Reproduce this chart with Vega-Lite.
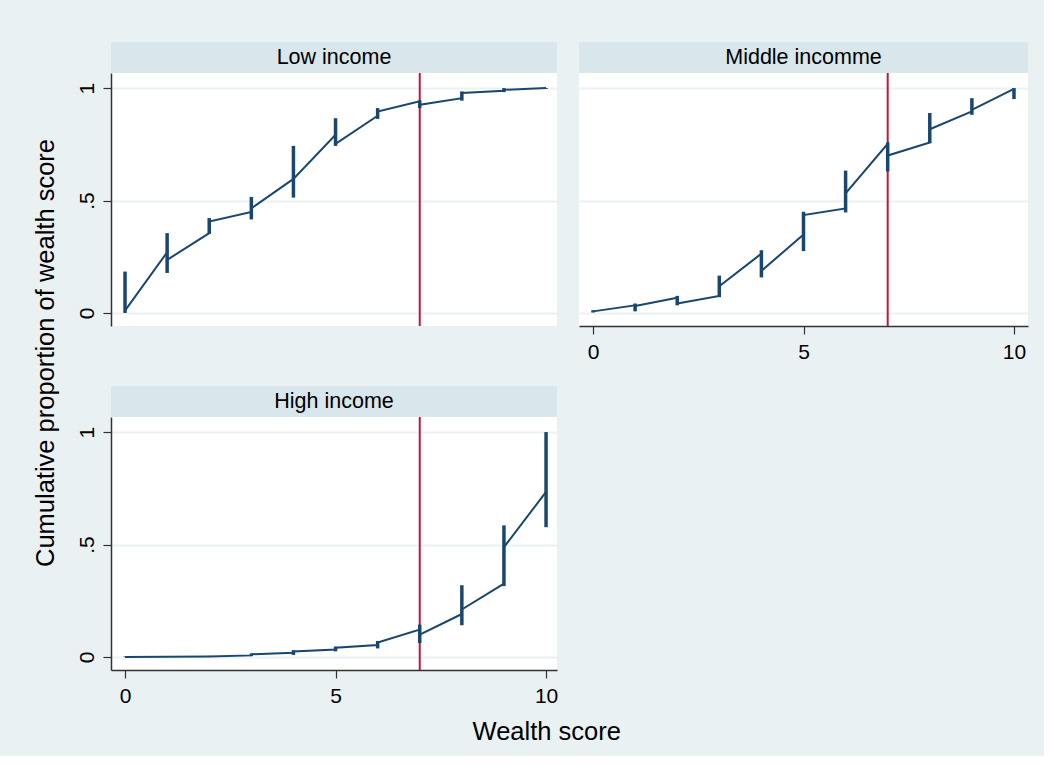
{
  "$schema": "https://vega.github.io/schema/vega-lite/v6.json",
  "background": "#EAF1F3",
  "padding": {"left": 33, "top": 42, "right": 16, "bottom": 10},
  "title": {"text": "Wealth score", "orient": "bottom", "anchor": "middle", "fontSize": 25.5, "font": "Liberation Sans", "fontWeight": "normal", "color": "#000000", "offset": 14, "dx": 16},
  "datasets": {
    "panels": [
      {"panel": "Low income"},
      {"panel": "Middle incomme"},
      {"panel": "High income"}
    ],
    "cut": [{"cutoff": 7}],
    "line": [
      {"panel": "Low income", "score": 0, "prop": 0.01, "ord": 0},
      {"panel": "Low income", "score": 1, "prop": 0.27, "ord": 1},
      {"panel": "Low income", "score": 1, "prop": 0.236, "ord": 2},
      {"panel": "Low income", "score": 2, "prop": 0.355, "ord": 3},
      {"panel": "Low income", "score": 2, "prop": 0.407, "ord": 4},
      {"panel": "Low income", "score": 3, "prop": 0.449, "ord": 5},
      {"panel": "Low income", "score": 3, "prop": 0.465, "ord": 6},
      {"panel": "Low income", "score": 4, "prop": 0.596, "ord": 7},
      {"panel": "Low income", "score": 5, "prop": 0.792, "ord": 8},
      {"panel": "Low income", "score": 5, "prop": 0.752, "ord": 9},
      {"panel": "Low income", "score": 6, "prop": 0.877, "ord": 10},
      {"panel": "Low income", "score": 6, "prop": 0.896, "ord": 11},
      {"panel": "Low income", "score": 7, "prop": 0.941, "ord": 12},
      {"panel": "Low income", "score": 7, "prop": 0.926, "ord": 13},
      {"panel": "Low income", "score": 8, "prop": 0.955, "ord": 14},
      {"panel": "Low income", "score": 8, "prop": 0.978, "ord": 15},
      {"panel": "Low income", "score": 9, "prop": 0.988, "ord": 16},
      {"panel": "Low income", "score": 9, "prop": 0.992, "ord": 17},
      {"panel": "Low income", "score": 10, "prop": 1.0, "ord": 18},
      {"panel": "Middle incomme", "score": 0, "prop": 0.007, "ord": 0},
      {"panel": "Middle incomme", "score": 1, "prop": 0.034, "ord": 1},
      {"panel": "Middle incomme", "score": 1, "prop": 0.031, "ord": 2},
      {"panel": "Middle incomme", "score": 2, "prop": 0.068, "ord": 3},
      {"panel": "Middle incomme", "score": 2, "prop": 0.042, "ord": 4},
      {"panel": "Middle incomme", "score": 3, "prop": 0.076, "ord": 5},
      {"panel": "Middle incomme", "score": 3, "prop": 0.119, "ord": 6},
      {"panel": "Middle incomme", "score": 4, "prop": 0.264, "ord": 7},
      {"panel": "Middle incomme", "score": 4, "prop": 0.187, "ord": 8},
      {"panel": "Middle incomme", "score": 5, "prop": 0.349, "ord": 9},
      {"panel": "Middle incomme", "score": 5, "prop": 0.435, "ord": 10},
      {"panel": "Middle incomme", "score": 6, "prop": 0.465, "ord": 11},
      {"panel": "Middle incomme", "score": 6, "prop": 0.532, "ord": 12},
      {"panel": "Middle incomme", "score": 7, "prop": 0.752, "ord": 13},
      {"panel": "Middle incomme", "score": 7, "prop": 0.7, "ord": 14},
      {"panel": "Middle incomme", "score": 8, "prop": 0.758, "ord": 15},
      {"panel": "Middle incomme", "score": 8, "prop": 0.817, "ord": 16},
      {"panel": "Middle incomme", "score": 9, "prop": 0.896, "ord": 17},
      {"panel": "Middle incomme", "score": 9, "prop": 0.903, "ord": 18},
      {"panel": "Middle incomme", "score": 10, "prop": 0.996, "ord": 19},
      {"panel": "High income", "score": 0, "prop": 0.0, "ord": 0},
      {"panel": "High income", "score": 1, "prop": 0.001, "ord": 1},
      {"panel": "High income", "score": 2, "prop": 0.002, "ord": 2},
      {"panel": "High income", "score": 3, "prop": 0.007, "ord": 3},
      {"panel": "High income", "score": 3, "prop": 0.012, "ord": 4},
      {"panel": "High income", "score": 4, "prop": 0.019, "ord": 5},
      {"panel": "High income", "score": 4, "prop": 0.024, "ord": 6},
      {"panel": "High income", "score": 5, "prop": 0.033, "ord": 7},
      {"panel": "High income", "score": 5, "prop": 0.041, "ord": 8},
      {"panel": "High income", "score": 6, "prop": 0.053, "ord": 9},
      {"panel": "High income", "score": 6, "prop": 0.064, "ord": 10},
      {"panel": "High income", "score": 7, "prop": 0.122, "ord": 11},
      {"panel": "High income", "score": 7, "prop": 0.099, "ord": 12},
      {"panel": "High income", "score": 8, "prop": 0.191, "ord": 13},
      {"panel": "High income", "score": 8, "prop": 0.211, "ord": 14},
      {"panel": "High income", "score": 9, "prop": 0.326, "ord": 15},
      {"panel": "High income", "score": 9, "prop": 0.488, "ord": 16},
      {"panel": "High income", "score": 10, "prop": 0.734, "ord": 17}
    ],
    "bars": [
      {"panel": "Low income", "score": 0, "lo": 0.0, "hi": 0.184},
      {"panel": "Low income", "score": 1, "lo": 0.178, "hi": 0.355},
      {"panel": "Low income", "score": 2, "lo": 0.352, "hi": 0.422},
      {"panel": "Low income", "score": 3, "lo": 0.416, "hi": 0.516},
      {"panel": "Low income", "score": 4, "lo": 0.513, "hi": 0.743},
      {"panel": "Low income", "score": 5, "lo": 0.743, "hi": 0.866},
      {"panel": "Low income", "score": 6, "lo": 0.863, "hi": 0.911},
      {"panel": "Low income", "score": 7, "lo": 0.911, "hi": 0.945},
      {"panel": "Low income", "score": 8, "lo": 0.944, "hi": 0.985},
      {"panel": "Low income", "score": 9, "lo": 0.982, "hi": 1.0},
      {"panel": "Low income", "score": 10, "lo": 0.996, "hi": 1.0},
      {"panel": "Middle incomme", "score": 0, "lo": 0.002, "hi": 0.012},
      {"panel": "Middle incomme", "score": 1, "lo": 0.007, "hi": 0.042},
      {"panel": "Middle incomme", "score": 2, "lo": 0.034, "hi": 0.076},
      {"panel": "Middle incomme", "score": 3, "lo": 0.07, "hi": 0.166},
      {"panel": "Middle incomme", "score": 4, "lo": 0.158, "hi": 0.279},
      {"panel": "Middle incomme", "score": 5, "lo": 0.275, "hi": 0.45},
      {"panel": "Middle incomme", "score": 6, "lo": 0.447, "hi": 0.633},
      {"panel": "Middle incomme", "score": 7, "lo": 0.629, "hi": 0.758},
      {"panel": "Middle incomme", "score": 8, "lo": 0.755, "hi": 0.889},
      {"panel": "Middle incomme", "score": 9, "lo": 0.881, "hi": 0.955},
      {"panel": "Middle incomme", "score": 10, "lo": 0.951, "hi": 1.0},
      {"panel": "High income", "score": 0, "lo": 0.0, "hi": 0.002},
      {"panel": "High income", "score": 1, "lo": 0.0, "hi": 0.003},
      {"panel": "High income", "score": 2, "lo": 0.0, "hi": 0.005},
      {"panel": "High income", "score": 3, "lo": 0.004, "hi": 0.014},
      {"panel": "High income", "score": 4, "lo": 0.009, "hi": 0.03},
      {"panel": "High income", "score": 5, "lo": 0.025, "hi": 0.046},
      {"panel": "High income", "score": 6, "lo": 0.038, "hi": 0.071},
      {"panel": "High income", "score": 7, "lo": 0.062, "hi": 0.144},
      {"panel": "High income", "score": 8, "lo": 0.141, "hi": 0.319},
      {"panel": "High income", "score": 9, "lo": 0.315, "hi": 0.585},
      {"panel": "High income", "score": 10, "lo": 0.577, "hi": 1.0}
    ]
  },
  "spacing": 21,
  "hconcat": [
    {
      "title": {"text": "Cumulative proportion of wealth score", "orient": "left", "anchor": "middle", "fontSize": 25.5, "font": "Liberation Sans", "fontWeight": "normal", "color": "#000000", "offset": 17, "dx": 21},
      "spacing": 59,
      "vconcat": [
        {
          "spacing": 0,
          "bounds": "flush",
          "vconcat": [
            {
              "width": 446, "height": 31,
              "view": {"fill": "#D9E6EB", "stroke": null},
              "data": {"name": "panels"},
              "transform": [{"filter": "datum.panel == 'Low income'"}],
              "mark": {"type": "text", "fontSize": 21.5, "font": "Liberation Sans", "color": "#000000"},
              "encoding": {"text": {"field": "panel", "type": "nominal"}}
            },
            {
              "width": 446, "height": 253,
              "view": {"fill": "#FFFFFF", "stroke": null},
              "layer": [
                {
                  "data": {"name": "cut"},
                  "mark": {"type": "rule", "color": "#C4153A", "strokeWidth": 2},
                  "encoding": {
                    "x": {"field": "cutoff", "type": "quantitative", "scale": {"domain": [-0.333, 10.26], "nice": false, "zero": false}, "axis": null}
                  }
                },
                {
                  "data": {"name": "bars"},
                  "transform": [{"filter": "datum.panel == 'Low income'"}],
                  "mark": {"type": "rule", "color": "#1A476F", "strokeWidth": 3.5},
                  "encoding": {
                    "x": {"field": "score", "type": "quantitative"},
                    "y": {"field": "lo", "type": "quantitative", "scale": {"domain": [-0.058, 1.067], "nice": false, "zero": false},
                      "axis": {"values": [0, 0.5, 1], "labelExpr": "datum.value == 0.5 ? '.5' : (datum.value == 1 ? '1' : '0')", "title": null, "grid": true, "labelAngle": -90, "labelPadding": 6}},
                    "y2": {"field": "hi"}
                  }
                },
                {
                  "data": {"name": "line"},
                  "transform": [{"filter": "datum.panel == 'Low income'"}],
                  "mark": {"type": "line", "color": "#1A476F", "strokeWidth": 2},
                  "encoding": {
                    "x": {"field": "score", "type": "quantitative"},
                    "y": {"field": "prop", "type": "quantitative"},
                    "order": {"field": "ord", "type": "quantitative"}
                  }
                }
              ]
            }
          ]
        },
        {
          "spacing": 0,
          "bounds": "flush",
          "vconcat": [
            {
              "width": 446, "height": 31,
              "view": {"fill": "#D9E6EB", "stroke": null},
              "data": {"name": "panels"},
              "transform": [{"filter": "datum.panel == 'High income'"}],
              "mark": {"type": "text", "fontSize": 21.5, "font": "Liberation Sans", "color": "#000000"},
              "encoding": {"text": {"field": "panel", "type": "nominal"}}
            },
            {
              "width": 446, "height": 253,
              "view": {"fill": "#FFFFFF", "stroke": null},
              "layer": [
                {
                  "data": {"name": "cut"},
                  "mark": {"type": "rule", "color": "#C4153A", "strokeWidth": 2},
                  "encoding": {
                    "x": {"field": "cutoff", "type": "quantitative", "scale": {"domain": [-0.333, 10.26], "nice": false, "zero": false},
                      "axis": {"values": [0, 5, 10], "title": null, "grid": false, "labelPadding": 7}}
                  }
                },
                {
                  "data": {"name": "bars"},
                  "transform": [{"filter": "datum.panel == 'High income'"}],
                  "mark": {"type": "rule", "color": "#1A476F", "strokeWidth": 3.5},
                  "encoding": {
                    "x": {"field": "score", "type": "quantitative"},
                    "y": {"field": "lo", "type": "quantitative", "scale": {"domain": [-0.058, 1.067], "nice": false, "zero": false},
                      "axis": {"values": [0, 0.5, 1], "labelExpr": "datum.value == 0.5 ? '.5' : (datum.value == 1 ? '1' : '0')", "title": null, "grid": true, "labelAngle": -90, "labelPadding": 6}},
                    "y2": {"field": "hi"}
                  }
                },
                {
                  "data": {"name": "line"},
                  "transform": [{"filter": "datum.panel == 'High income'"}],
                  "mark": {"type": "line", "color": "#1A476F", "strokeWidth": 2},
                  "encoding": {
                    "x": {"field": "score", "type": "quantitative"},
                    "y": {"field": "prop", "type": "quantitative"},
                    "order": {"field": "ord", "type": "quantitative"}
                  }
                }
              ]
            }
          ]
        }
      ]
    },
    {
      "spacing": 0,
      "bounds": "flush",
      "vconcat": [
        {
          "width": 449, "height": 31,
          "view": {"fill": "#D9E6EB", "stroke": null},
          "data": {"name": "panels"},
          "transform": [{"filter": "datum.panel == 'Middle incomme'"}],
          "mark": {"type": "text", "fontSize": 21.5, "font": "Liberation Sans", "color": "#000000"},
          "encoding": {"text": {"field": "panel", "type": "nominal"}}
        },
        {
          "width": 449, "height": 253,
          "view": {"fill": "#FFFFFF", "stroke": null},
          "layer": [
            {
              "data": {"name": "cut"},
              "mark": {"type": "rule", "color": "#C4153A", "strokeWidth": 2},
              "encoding": {
                "x": {"field": "cutoff", "type": "quantitative", "scale": {"domain": [-0.333, 10.333], "nice": false, "zero": false},
                  "axis": {"values": [0, 5, 10], "title": null, "grid": false, "labelPadding": 7}}
              }
            },
            {
              "data": {"name": "bars"},
              "transform": [{"filter": "datum.panel == 'Middle incomme'"}],
              "mark": {"type": "rule", "color": "#1A476F", "strokeWidth": 3.5},
              "encoding": {
                "x": {"field": "score", "type": "quantitative"},
                "y": {"field": "lo", "type": "quantitative", "scale": {"domain": [-0.058, 1.067], "nice": false, "zero": false},
                  "axis": {"values": [0, 0.5, 1], "title": null, "grid": true, "labels": false, "ticks": false, "domain": false}},
                "y2": {"field": "hi"}
              }
            },
            {
              "data": {"name": "line"},
              "transform": [{"filter": "datum.panel == 'Middle incomme'"}],
              "mark": {"type": "line", "color": "#1A476F", "strokeWidth": 2},
              "encoding": {
                "x": {"field": "score", "type": "quantitative"},
                "y": {"field": "prop", "type": "quantitative"},
                "order": {"field": "ord", "type": "quantitative"}
              }
            }
          ]
        }
      ]
    }
  ],
  "config": {
    "font": "Liberation Sans",
    "view": {"stroke": null},
    "axis": {
      "labelFont": "Liberation Sans",
      "labelFontSize": 21,
      "labelColor": "#000000",
      "titleFont": "Liberation Sans",
      "titleFontWeight": "normal",
      "titleColor": "#000000",
      "tickSize": 8,
      "tickColor": "#333333",
      "tickWidth": 1.2,
      "domainColor": "#333333",
      "domainWidth": 1.5,
      "gridColor": "#EAF2F3",
      "gridWidth": 2,
      "labelFlush": false,
      "labelOverlap": false
    }
  }
}
